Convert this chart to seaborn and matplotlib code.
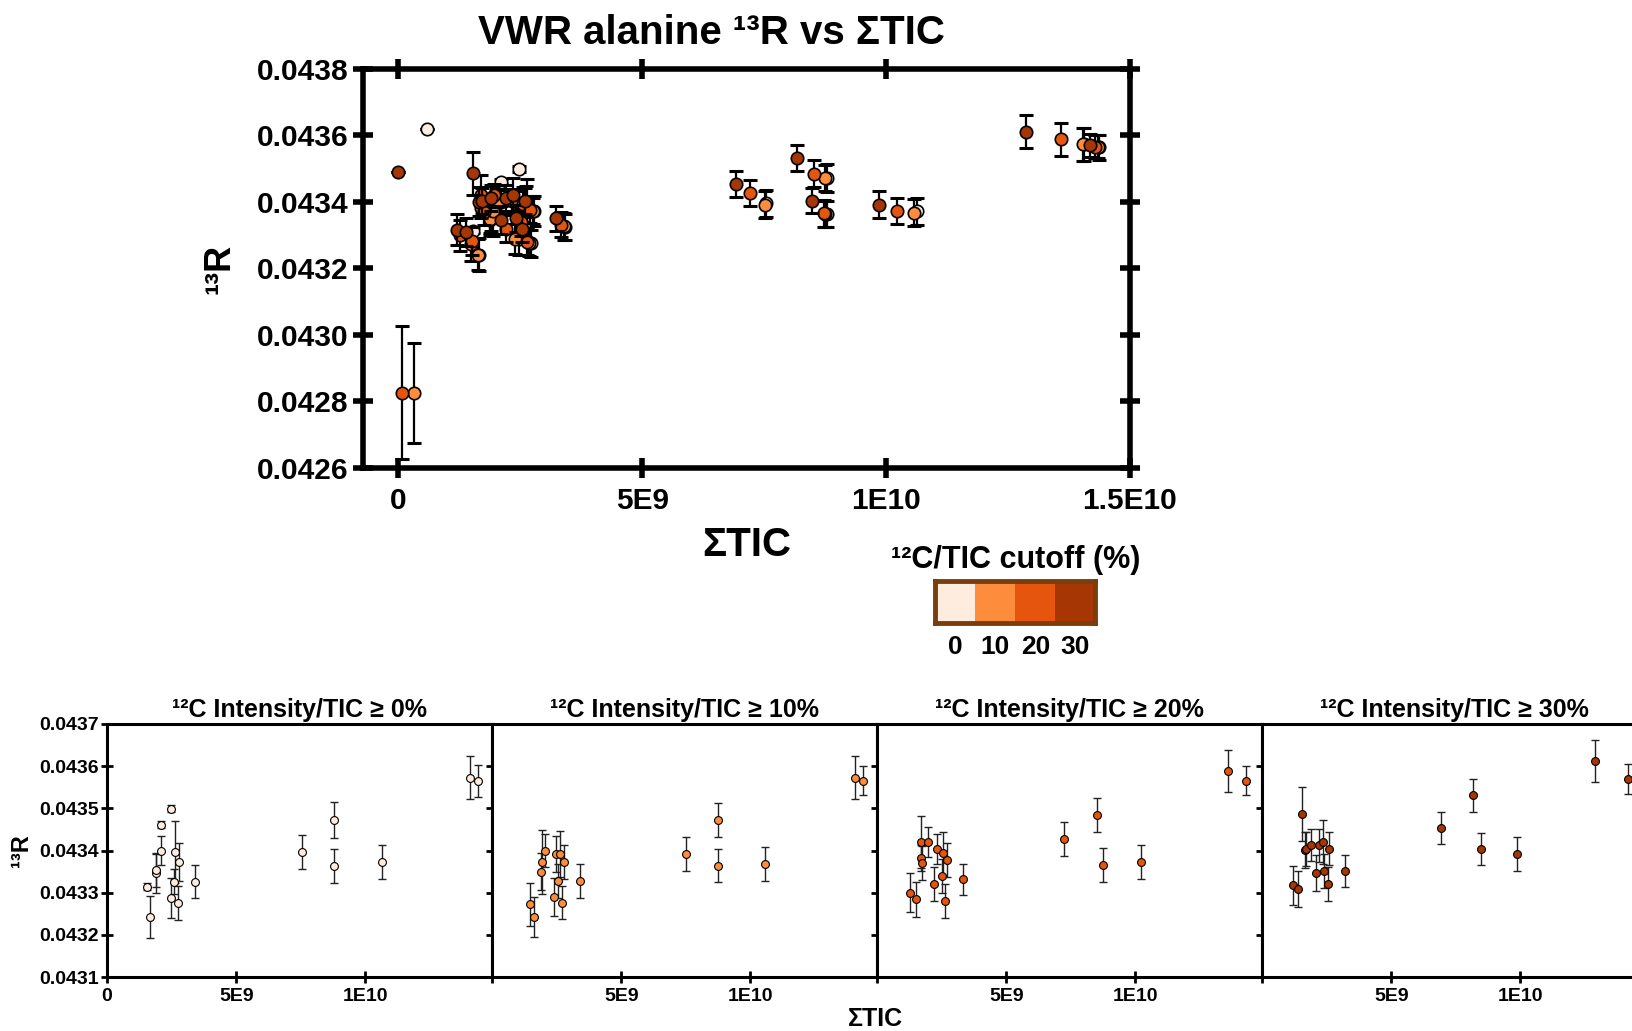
import numpy as np
import pandas as pd
import seaborn as sns
import matplotlib.pyplot as plt
from matplotlib.colors import ListedColormap

sns.set_theme(style='ticks')
plt.rcParams['font.family'] = ['Liberation Sans', 'DejaVu Sans']
plt.rcParams['font.weight'] = 'bold'
plt.rcParams['axes.labelweight'] = 'bold'
plt.rcParams['axes.titleweight'] = 'bold'
plt.rcParams['text.color'] = 'black'
plt.rcParams['axes.labelcolor'] = 'black'
plt.rcParams['xtick.color'] = 'black'
plt.rcParams['ytick.color'] = 'black'

cutoffs = [0, 10, 20, 30]
colors = ['#feedde', '#fd8d3c', '#e6550d', '#a63603']

# 12C intensity / TIC >= 0 %
tic_0 = [1.53e9, 1.66e9, 1.89e9, 1.91e9, 2.10e9, 2.10e9, 2.47e9, 2.47e9, 2.60e9, 2.65e9,
         2.73e9, 2.79e9, 3.42e9, 7.54e9, 8.80e9, 8.80e9, 10.63e9, 14.05e9, 14.37e9]
r_0 = [0.043314, 0.043242, 0.043346, 0.043354, 0.043461, 0.043400, 0.043499, 0.043288, 0.043326, 0.043396,
       0.043276, 0.043372, 0.043326, 0.043396, 0.043472, 0.043364, 0.043372, 0.043573, 0.043565]
err_0 = [0.000008, 0.000050, 0.000046, 0.000040, 0.000008, 0.000035, 0.000008, 0.000047, 0.000030, 0.000073,
         0.000040, 0.000045, 0.000039, 0.000041, 0.000042, 0.000040, 0.000040, 0.000051, 0.000038]

# >= 10 %
tic_10 = [1.49e9, 1.63e9, 1.88e9, 1.94e9, 2.07e9, 2.39e9, 2.46e9, 2.63e9, 2.57e9, 2.69e9,
          2.77e9, 3.39e9, 7.52e9, 8.75e9, 8.75e9, 10.58e9, 14.03e9, 14.35e9]
r_10 = [0.043273, 0.043242, 0.043350, 0.043373, 0.043400, 0.043289, 0.043392, 0.043392, 0.043327, 0.043276,
        0.043373, 0.043327, 0.043392, 0.043472, 0.043364, 0.043368, 0.043573, 0.043566]
err_10 = [0.000051, 0.000048, 0.000044, 0.000075, 0.000038, 0.000045, 0.000042, 0.000055, 0.000040, 0.000039,
          0.000040, 0.000040, 0.000040, 0.000040, 0.000039, 0.000040, 0.000051, 0.000034]

# >= 20 %
tic_20 = [1.27e9, 1.51e9, 1.70e9, 1.96e9, 1.70e9, 1.76e9, 2.21e9, 2.33e9, 2.56e9, 2.71e9,
          2.51e9, 2.64e9, 3.33e9, 7.22e9, 8.52e9, 8.73e9, 10.22e9, 13.59e9, 14.29e9]
r_20 = [0.043300, 0.043284, 0.043420, 0.043420, 0.043382, 0.043370, 0.043320, 0.043404, 0.043393, 0.043377,
        0.043339, 0.043281, 0.043332, 0.043427, 0.043485, 0.043366, 0.043373, 0.043589, 0.043566]
err_20 = [0.000046, 0.000042, 0.000062, 0.000035, 0.000030, 0.000040, 0.000040, 0.000035, 0.000052, 0.000040,
          0.000040, 0.000040, 0.000037, 0.000040, 0.000040, 0.000040, 0.000040, 0.000050, 0.000034]

# >= 30 %
tic_30 = [1.21e9, 1.40e9, 1.53e9, 1.66e9, 1.72e9, 1.90e9, 2.10e9, 2.21e9, 2.36e9, 2.41e9,
          2.54e9, 2.60e9, 3.23e9, 6.92e9, 8.17e9, 8.48e9, 9.85e9, 12.87e9, 14.18e9]
r_30 = [0.043317, 0.043309, 0.043486, 0.043401, 0.043403, 0.043412, 0.043347, 0.043412, 0.043420, 0.043351,
        0.043320, 0.043404, 0.043351, 0.043454, 0.043531, 0.043404, 0.043392, 0.043612, 0.043570]
err_30 = [0.000047, 0.000042, 0.000064, 0.000043, 0.000040, 0.000038, 0.000042, 0.000040, 0.000052, 0.000040,
          0.000040, 0.000039, 0.000038, 0.000038, 0.000039, 0.000038, 0.000040, 0.000050, 0.000035]

# low-TIC runs only shown in the overview plot
tic_low = [0.0, 0.6e9, 0.075e9, 0.335e9]
r_low = [0.043489, 0.043620, 0.042826, 0.042826]
err_low = [0.0, 0.0, 0.000200, 0.000150]
cut_low = [30, 0, 20, 10]

main_yticks = [0.0426, 0.0428, 0.0430, 0.0432, 0.0434, 0.0436, 0.0438]
main_xticks = [0, 5e9, 1e10, 1.5e10]
main_xlabels = ['0', '5E9', '1E10', '1.5E10']
sub_yticks = [0.0431, 0.0432, 0.0433, 0.0434, 0.0435, 0.0436, 0.0437]
sub_xticks = [0, 5e9, 1e10]
sub_xlabels = ['0', '5E9', '1E10']

frames = []
for c, t, r, e in zip(cutoffs, [tic_0, tic_10, tic_20, tic_30], [r_0, r_10, r_20, r_30],
                      [err_0, err_10, err_20, err_30]):
    frames.append(pd.DataFrame({'tic': t, 'r': r, 'err': e, 'cutoff': c}))
df = pd.concat(frames, ignore_index=True)
low = pd.DataFrame({'tic': tic_low, 'r': r_low, 'err': err_low, 'cutoff': cut_low})
main_df = pd.concat([df, low], ignore_index=True)

fig = plt.figure(figsize=(16.33, 10.31), dpi=100)

# ---- overview plot ----
ax = fig.add_axes([363 / 1633, 1 - 468 / 1031, 767 / 1633, 399 / 1031])
for i, (c, col) in enumerate(zip(cutoffs, colors)):
    sub = main_df[main_df['cutoff'] == c]
    ax.errorbar(sub['tic'], sub['r'], yerr=sub['err'], fmt='none', ecolor='black',
                elinewidth=1.6, capsize=4.8, capthick=2.2, zorder=2 + 2 * i)
    sns.scatterplot(data=sub, x='tic', y='r', color=col, s=80, edgecolor='black',
                    linewidth=1.2, ax=ax, legend=False, zorder=3 + 2 * i)

ax.set_xlim(-0.72e9, 1.5e10)
ax.set_ylim(0.0426, 0.0438)
ax.set_xticks(main_xticks)
ax.set_xticklabels(main_xlabels)
ax.set_yticks(main_yticks)
ax.set_yticklabels([f'{v:.4f}' for v in main_yticks])
ax.tick_params(direction='inout', length=15, width=4, top=True, right=True,
               labelsize=21.5, color='black')
ax.tick_params(axis='x', pad=6)
ax.tick_params(axis='y', pad=3)
for s in ax.spines.values():
    s.set_linewidth(4)
    s.set_color('black')
ax.set_xlabel('ΣTIC', fontsize=29, labelpad=8)
ax.set_ylabel('¹³R', fontsize=26, labelpad=14)
fig.text(711 / 1633, 1 - 33 / 1031, 'VWR alanine ¹³R vs ΣTIC', fontsize=29,
         fontweight='bold', ha='center', va='center')

# ---- colour key ----
cax = fig.add_axes([935.5 / 1633, 1 - 622.5 / 1031, 160 / 1633, 42 / 1031])
sns.heatmap(pd.DataFrame([cutoffs]), cmap=ListedColormap(colors), vmin=0, vmax=30,
            cbar=False, ax=cax, xticklabels=cutoffs, yticklabels=False)
for s in cax.spines.values():
    s.set_visible(True)
    s.set_linewidth(3.5)
    s.set_color('#7a3d0c')
cax.tick_params(axis='x', length=0, labelsize=19, pad=9, rotation=0)
cax.set_xlabel('')
cax.set_ylabel('')
cax.set_title('¹²C/TIC cutoff (%)', fontsize=22, pad=9)

# ---- per-cutoff panels ----
for k, (c, col) in enumerate(zip(cutoffs, colors)):
    bx = fig.add_axes([(107 + 385 * k) / 1633, 1 - 977 / 1031, 385 / 1633, 253 / 1031])
    sub = df[df['cutoff'] == c]
    bx.errorbar(sub['tic'], sub['r'], yerr=sub['err'], fmt='none', ecolor='#222222',
                elinewidth=1.0, capsize=2.6, capthick=1.0, zorder=2)
    sns.scatterplot(data=sub, x='tic', y='r', color=col, s=32, edgecolor='black',
                    linewidth=0.8, ax=bx, legend=False, zorder=3)
    bx.set_xlim(0, 1.49e10)
    bx.set_ylim(0.0431, 0.0437)
    bx.set_xticks(sub_xticks)
    bx.set_xticklabels(sub_xlabels if k == 0 else [''] + sub_xlabels[1:])
    bx.set_yticks(sub_yticks)
    bx.set_yticklabels([f'{v:.4f}' for v in sub_yticks])
    bx.tick_params(direction='inout', length=8, width=2, right=True, top=False,
                   left=(k == 0), labelleft=(k == 0), labelsize=14, pad=4)
    bx.tick_params(axis='y', pad=2)
    for s in bx.spines.values():
        s.set_linewidth(2.2)
        s.set_color('black')
    bx.set_xlabel('')
    bx.set_ylabel('¹³R' if k == 0 else '', fontsize=17, labelpad=4)
    bx.set_title(f'¹²C Intensity/TIC ≥ {c}%', fontsize=18, pad=5)

fig.text(875 / 1633, 1 - 1019 / 1031, 'ΣTIC', fontsize=18, fontweight='bold',
         ha='center', va='center')

fig.savefig('out.png', dpi=100)
